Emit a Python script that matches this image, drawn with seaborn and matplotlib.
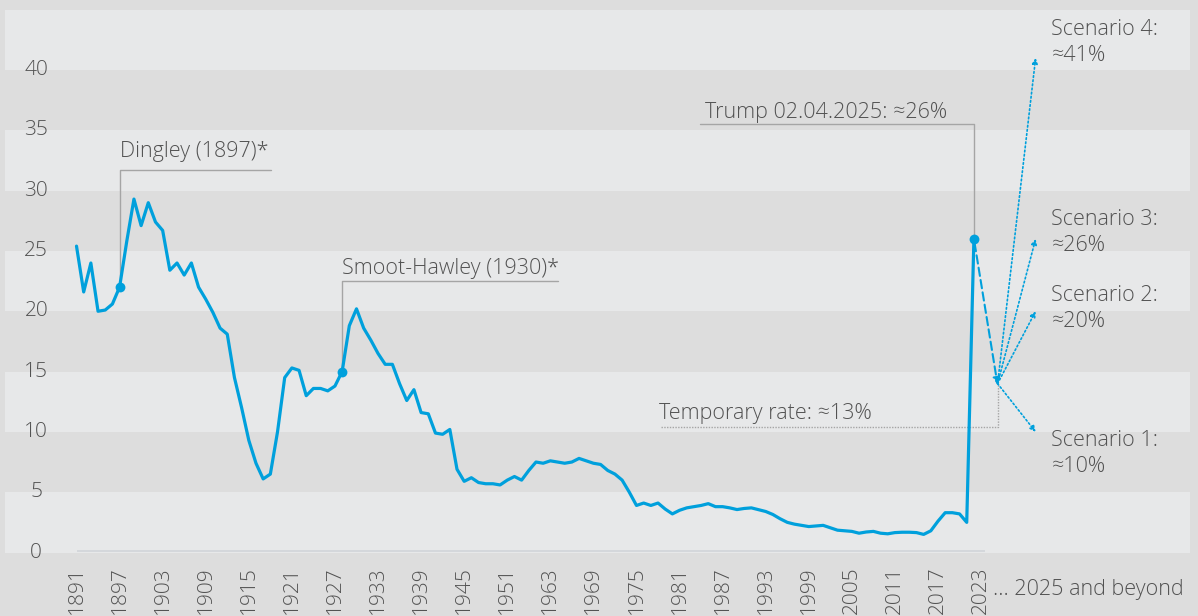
import numpy as np
import pandas as pd
import seaborn as sns
import matplotlib.pyplot as plt

# average US tariff rate, one value per step on the x axis
tariff = [
    25.4, 21.6, 24.0, 20.0, 20.1, 20.6, 22.0, 25.8, 29.3, 27.1,
    29.0, 27.4, 26.7, 23.4, 24.0, 23.0, 24.0, 22.0, 21.0, 19.9,
    18.6, 18.1, 14.5, 12.0, 9.3, 7.4, 6.1, 6.5, 10.0, 14.5,
    15.3, 15.1, 13.0, 13.6, 13.6, 13.4, 13.8, 15.0, 18.8, 20.2,
    18.6, 17.6, 16.5, 15.6, 15.6, 14.0, 12.6, 13.5, 11.6, 11.5,
    9.9, 9.8, 10.2, 6.9, 5.9, 6.2, 5.8, 5.7, 5.7, 5.6,
    6.0, 6.3, 6.0, 6.8, 7.5, 7.4, 7.6, 7.5, 7.4, 7.5,
    7.8, 7.6, 7.4, 7.3, 6.8, 6.5, 6.0, 5.0, 3.9, 4.1,
    3.9, 4.1, 3.6, 3.2, 3.5, 3.7, 3.8, 3.9, 4.05, 3.8,
    3.8, 3.7, 3.56, 3.65, 3.7, 3.55, 3.4, 3.15, 2.8, 2.5,
    2.35, 2.25, 2.15, 2.2, 2.25, 2.05, 1.85, 1.8, 1.75, 1.6,
    1.7, 1.75, 1.6, 1.55, 1.65, 1.68, 1.68, 1.65, 1.5, 1.8,
    2.6, 3.3, 3.3, 3.2, 2.5, 26.0,
]
tick_labels = ['1891', '1897', '1903', '1909', '1915', '1921', '1927', '1933',
               '1939', '1945', '1951', '1963', '1969', '1975', '1981', '1987',
               '1993', '1999', '2005', '2011', '2017', '2023']
y_ticks = [0, 5, 10, 15, 20, 25, 30, 35, 40]

# marked events: step index and label
event_idx = [6, 37]
event_text = ['Dingley (1897)*', 'Smoot-Hawley (1930)*']
trump_idx = 125
trump_text = 'Trump 02.04.2025: \u224826%'
temp_rate = 14.0
temp_text = 'Temporary rate: \u224813%'
scenario_values = [10, 20, 26, 41]
scenario_names = ['Scenario 1:', 'Scenario 2:', 'Scenario 3:', 'Scenario 4:']

blue = '#00a0dc'
grey_txt = '#525252'
grey_line = '#a5a5a5'
light = '#e7e8e9'
dark = '#dddddd'

sns.set_style('white')
plt.rcParams['font.family'] = ['Open Sans', 'DejaVu Sans']
plt.rcParams['font.weight'] = 'light'
fs = 15.5

fig = plt.figure(figsize=(11.98, 6.16), dpi=100, facecolor=dark)
ax = fig.add_axes([5 / 1198, 1 - 552.5 / 616, 1185 / 1198, 542.8 / 616])
ax.set_facecolor(dark)
for lo in range(0, 45, 10):
    ax.axhspan(lo, lo + 5, color=light, lw=0, zorder=0)

df = pd.DataFrame({'step': np.arange(len(tariff)), 'rate': tariff})
ax.hlines(0.15, 0, 126.6, color='#d2d6da', lw=1.3, zorder=1)
sns.lineplot(data=df, x='step', y='rate', color=blue, lw=2.3, ax=ax,
             zorder=3, solid_joinstyle='round')

# event markers with leader lines
dots = event_idx + [trump_idx]
ax.scatter(dots, [tariff[i] for i in dots], s=50, color=blue, zorder=4, lw=0)
ax.plot([event_idx[0], event_idx[0], 27.1], [tariff[event_idx[0]], 31.72, 31.72],
        color=grey_line, lw=1, zorder=2)
ax.text(6.1, 32.8, event_text[0], fontsize=fs, color=grey_txt)
ax.plot([event_idx[1], event_idx[1], 67.0], [tariff[event_idx[1]], 22.47, 22.47],
        color=grey_line, lw=1, zorder=2)
ax.text(37.0, 23.1, event_text[1], fontsize=fs, color=grey_txt)
ax.plot([86.8, trump_idx, trump_idx], [35.5, 35.5, tariff[trump_idx]],
        color=grey_line, lw=1, zorder=2)
ax.text(87.6, 36.05, trump_text, fontsize=fs, color=grey_txt)

# temporary rate and scenario arrows
pivot_x = 128.3
ax.plot([81.4, pivot_x, pivot_x], [10.38, 10.38, temp_rate], color=grey_line,
        lw=1, ls=(0, (1, 1)), zorder=2)
ax.text(81.2, 11.07, temp_text, fontsize=fs, color=grey_txt)
ax.annotate('', xy=(pivot_x, temp_rate - 0.1), xytext=(trump_idx, tariff[trump_idx]),
            arrowprops=dict(arrowstyle='-|>', color=blue, lw=1.5, ls=(0, (4, 2)),
                            mutation_scale=10, shrinkA=3, shrinkB=0), zorder=3)
for v in scenario_values:
    ax.annotate('', xy=(133.6, v), xytext=(pivot_x, temp_rate),
                arrowprops=dict(arrowstyle='-|>', color=blue, lw=1.2, ls=(0, (1, 1.5)),
                                mutation_scale=8, shrinkA=0, shrinkB=0), zorder=3)

label_y = [8.2, 20.2, 26.5, 42.3]
for name, v, y in zip(scenario_names, scenario_values, label_y):
    ax.text(135.8, y, f'{name}\n\u2248{v}%', fontsize=fs, color=grey_txt,
            va='center', linespacing=1.3)

for v in y_ticks:
    ax.text(-5.6, v, str(v), fontsize=15, color=grey_txt, ha='center', va='center')

ax.text(127.7, -3.5, '... 2025 and beyond', fontsize=fs, color=grey_txt,
        clip_on=False)

ax.set_xlim(-9.96, 155.1)
ax.set_ylim(0, 45)
ax.set_xticks(range(0, 127, 6))
ax.set_xticklabels(tick_labels, rotation=90)
ax.set_yticks([])
ax.tick_params(axis='x', length=0, pad=10, labelsize=15, labelcolor=grey_txt)
ax.set_xlabel('')
ax.set_ylabel('')
sns.despine(ax=ax, left=True, bottom=True)

fig.savefig('out.png', dpi=100, facecolor=dark)
